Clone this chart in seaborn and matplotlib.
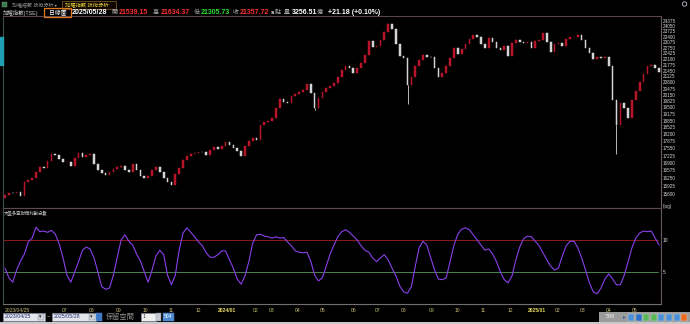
import numpy as np
import pandas as pd
import matplotlib
matplotlib.use('Agg')
import matplotlib.pyplot as plt
import seaborn as sns
from matplotlib.patches import Rectangle, Circle
from matplotlib.ticker import FixedLocator, NullLocator, NullFormatter

# ---------------- data ----------------
first_open = 15430
closes = [
    15560, 15650, 15620, 15700, 15520, 16100, 16190, 16270, 16520, 16730,
    16700, 17000, 17300, 17250, 17080, 16950, 16950, 16780, 17130, 17350,
    17170, 17260, 17280, 16860, 16600, 16480, 16390, 16520, 16650, 16730,
    16780, 16600, 16520, 16860, 16600, 16350, 16270, 16350, 16600, 16740,
    16520, 16270, 16100, 15980, 16430, 16690, 17040, 17220, 17300, 17350,
    17400, 17370, 17260, 17480, 17620, 17530, 17670, 17850, 17710, 17575,
    17440, 17210, 17670, 17900, 18030, 17940, 18650, 18790, 18840, 18990,
    19480, 19950, 19790, 19740, 20100, 20200, 20300, 20410, 20730, 20250,
    19480, 19990, 20300, 20510, 20620, 20780, 21100, 21490, 21710, 21600,
    21320, 21600, 21880, 22330, 23150, 22800, 22860, 23210, 23700, 24190,
    23890, 22980, 22270, 22160, 20670, 21100, 21710, 22050, 22330, 22220,
    22200, 21600, 21100, 21320, 21700, 22160, 22740, 22390, 22680, 22980,
    23270, 23510, 23390, 22980, 22740, 23330, 23100, 22740, 22620, 22860,
    22270, 23040, 23210, 23100, 23040, 23090, 22740, 23150, 23210, 23640,
    23100, 22510, 22980, 23040, 22860, 23270, 23390, 23390, 23510, 23210,
    22740, 22450, 22100, 22220, 22160, 22220, 21700, 19890, 18650, 19740,
    19480, 18990, 19890, 20360, 20830, 21270, 21710, 21770, 21600, 21360,
]
shadow_idx = [80, 104, 158]
shadow_low = [19350, 19660, 17300]

score = [
    5.6, 4.1, 3.4, 5.3, 6.7, 7.8, 9.7, 10.3, 12.0, 11.3,
    11.4, 11.2, 11.5, 10.9, 9.4, 7.2, 4.5, 3.4, 5.0, 6.6,
    8.4, 8.9, 8.6, 7.2, 5.0, 2.7, 2.3, 2.5, 4.5, 7.3,
    10.0, 10.8, 9.8, 9.2, 7.8, 6.7, 5.0, 3.4, 5.3, 7.5,
    8.4, 7.7, 4.5, 3.0, 4.5, 8.4, 11.1, 11.9, 11.2, 10.5,
    9.7, 9.1, 8.0, 7.3, 7.3, 7.7, 8.3, 8.3, 6.9, 5.6,
    3.9, 3.1, 4.4, 6.6, 9.5, 10.8, 10.9, 10.6, 10.5, 10.3,
    10.5, 10.3, 10.4, 9.7, 9.1, 8.3, 8.1, 8.0, 8.1, 6.7,
    4.5, 3.6, 4.1, 5.9, 7.8, 9.2, 10.5, 11.3, 11.6, 11.2,
    10.6, 10.0, 9.1, 8.4, 8.1, 7.2, 6.6, 7.2, 7.7, 6.9,
    5.6, 4.4, 2.8, 1.9, 1.7, 2.7, 5.9, 8.8, 9.8, 9.2,
    7.2, 5.3, 3.9, 3.8, 4.1, 6.6, 9.2, 10.9, 11.7, 11.9,
    11.6, 10.8, 10.0, 9.2, 8.4, 8.6, 7.8, 6.6, 5.0, 3.8,
    3.3, 4.4, 6.9, 8.9, 10.2, 10.6, 10.5, 9.8, 9.1, 8.0,
    6.9, 5.9, 5.3, 5.6, 7.5, 9.1, 9.8, 9.8, 8.8, 7.2,
    5.3, 3.3, 1.9, 1.6, 2.5, 3.9, 4.7, 3.9, 3.0, 3.0,
    4.5, 6.6, 8.8, 10.3, 11.1, 11.4, 11.3, 11.4, 10.3, 9.2,
]
days_per_candle = 3

month_pos = [0, 46.5, 67, 88, 108.5, 128.7, 150, 172, 194, 207, 227, 246.5,
             270, 289, 309, 331, 351, 370.5, 392, 412, 428, 448, 468, 488]
month_labels = ['2023/04/25', '07', '08', '09', '10', '11', '12', '2024/01',
                '02', '03', '04', '05', '06', '07', '08', '09', '10', '11',
                '12', '2025/01', '02', '03', '04', '05']
price_ticks = [15600, 15925, 16250, 16575, 16900, 17225, 17550, 17875, 18200,
               18525, 18850, 19175, 19500, 19825, 20150, 20475, 20800, 21125,
               21450, 21775, 22100, 22425, 22750, 23075, 23400, 23725, 24050,
               24375]
score_levels = [10, 5]

hdr_date = '2025/05/28'
hdr_open, hdr_high, hdr_low, hdr_close = '21539.15', '21634.37', '21305.73', '21357.72'
hdr_vol = '3256.51'
hdr_chg = '+21.18 (+0.10%)'

# ---------------- style ----------------
sns.set_theme(style='dark', rc={'axes.facecolor': 'black', 'figure.facecolor': 'black',
                                'savefig.facecolor': 'black'})
plt.rcParams['font.family'] = ['Liberation Sans', 'Noto Sans CJK TC', 'DejaVu Sans']

W, H = 690, 324
fig = plt.figure(figsize=(W / 100, H / 100), dpi=100)


def fr(px, py, w, h):
    return [px / W, 1 - (py + h) / H, w / W, h / H]


def ftext(px, py, s, **kw):
    kw.setdefault('va', 'center')
    kw.setdefault('ha', 'left')
    fig.text(px / W, 1 - py / H, s, **kw)


def frect(px, py, w, h, **kw):
    fig.patches.append(Rectangle((px / W, 1 - (py + h) / H), w / W, h / H,
                                 transform=fig.transFigure, **kw))


# ---------------- main candle panel ----------------
ax = fig.add_axes(fr(3, 16, 658, 192))
ax.set_facecolor('black')
opens = [first_open] + closes[:-1]
days = np.arange(len(closes)) * days_per_candle
df = pd.DataFrame({'day': days, 'open': opens, 'close': closes})
df['up'] = df['close'] >= df['open']
df['lo'] = df[['open', 'close']].min(axis=1)
df['hi'] = df[['open', 'close']].max(axis=1)
col = np.where(df['up'], '#b8142a', '#d4d4d4')
ax.bar(df['day'], df['hi'] - df['lo'], bottom=df['lo'], width=1.3,
       color=col, edgecolor=col, linewidth=0.35)
for i, lo in zip(shadow_idx, shadow_low):
    ax.vlines(df['day'][i], lo, df['lo'][i], color=col[i], lw=0.6)

ax.set_yscale('log')
ax.set_ylim(15046, 24691)
ax.set_xlim(-1.55, 508.5)
ax.yaxis.set_major_locator(FixedLocator(price_ticks))
ax.yaxis.set_minor_locator(NullLocator())
ax.yaxis.set_minor_formatter(NullFormatter())
ax.set_yticklabels([str(v) for v in price_ticks])
ax.yaxis.tick_right()
ax.tick_params(axis='y', length=0, pad=1.5, labelsize=3.3, colors='#d8d8d8')
ax.set_xticks([])
ax.grid(False)
for s, c in [('top', '#5a4450'), ('right', '#6a5a62'), ('left', '#3c4c4c'), ('bottom', '#5a4a52')]:
    ax.spines[s].set_color(c)
    ax.spines[s].set_linewidth(0.8)
ax.text(1.003, 0.01, '(log)', transform=ax.transAxes, fontsize=3.3, color='#d8d8d8',
        ha='left', va='center')

# ---------------- score panel ----------------
ax2 = fig.add_axes(fr(3, 208, 658, 96))
ax2.set_facecolor('black')
ax2.axhline(score_levels[0], color='#8c1c1c', lw=0.7, xmax=0.995)
ax2.axhline(score_levels[1], color='#4c8450', lw=0.7, xmax=0.995)
sns.lineplot(x=days, y=score, ax=ax2, color='#8a40ea', lw=0.8)
ax2.set_xlim(-1.55, 508.5)
ax2.set_ylim(0, 15)
ax2.set_yticks(score_levels)
ax2.set_yticklabels([str(v) for v in score_levels])
ax2.yaxis.tick_right()
ax2.tick_params(axis='y', length=0, pad=1.5, labelsize=3.5, colors='#e0e0e0')
ax2.set_xticks(month_pos)
ax2.set_xticklabels(month_labels)
ax2.tick_params(axis='x', length=1.5, width=0.5, color='#909090', pad=1.2,
                labelsize=3.6, colors='#c8c07a', direction='out')
for lab in ax2.get_xticklabels():
    if '/' in lab.get_text():
        lab.set_fontweight('bold')
        lab.set_color('#e8dc60')
    if lab.get_text() == '2023/04/25':
        lab.set_horizontalalignment('left')
        lab.set_color('#c8c07a')
        lab.set_fontweight('normal')
ax2.grid(False)
ax2.set_xlabel('')
ax2.set_ylabel('')
for s, c in [('top', '#5a4a52'), ('right', '#6a5a62'), ('left', '#3c4c4c'), ('bottom', '#707070')]:
    ax2.spines[s].set_color(c)
    ax2.spines[s].set_linewidth(0.8)
ax2.text(0.002, 0.97, '大盤多空對策判斷分數', transform=ax2.transAxes, fontsize=3.2,
         color='#c8c8c8', ha='left', va='top')

# ---------------- header ----------------
frect(0, 37, 2.5, 28, color='#20a0b4')
frect(2, 1.5, 5, 5, facecolor='#3a7a4a', edgecolor='#80a080', lw=0.3)
ftext(12, 4.5, '加權指數 技術分析 ▸', fontsize=3.6, color='#909090')
frect(62, 0.5, 54, 8, facecolor='#100800', edgecolor='#7a5020', lw=0.6)
ftext(65, 4.5, '加權指數 技術分析', fontsize=3.8, color='#e8d040')

row = 12.5
ftext(3, row, '加權指數(TSE)', fontsize=3.9, color='#c8c8c8')
frect(44, 8.5, 27, 8.5, facecolor='none', edgecolor='#e07a20', lw=0.9)
ftext(49, row, '日線圖', fontsize=4.2, color='#ffffff')
ftext(72, row, hdr_date, fontsize=5.0, color='#ffffff', fontweight='bold')
ftext(111, row, '開', fontsize=4.3, color='#b0b0b0')
ftext(119, row, hdr_open, fontsize=5.0, color='#ff3030', fontweight='bold')
ftext(153, row, '高', fontsize=4.3, color='#b0b0b0')
ftext(161, row, hdr_high, fontsize=5.0, color='#ff3030', fontweight='bold')
ftext(194, row, '低', fontsize=4.3, color='#b0b0b0')
ftext(201, row, hdr_low, fontsize=5.0, color='#30e030', fontweight='bold')
ftext(233, row, '收', fontsize=4.3, color='#b0b0b0')
ftext(240, row, hdr_close, fontsize=5.0, color='#ff3030', fontweight='bold')
ftext(271, row, 's', fontsize=4.3, color='#ffffff', fontweight='bold')
ftext(275, row, '點', fontsize=4.3, color='#b0b0b0')
ftext(284, row, '量', fontsize=4.3, color='#b0b0b0')
ftext(292, row, hdr_vol, fontsize=5.0, color='#ffffff', fontweight='bold')
ftext(317, row, '億', fontsize=4.3, color='#b0b0b0')
ftext(328, row, hdr_chg, fontsize=5.0, color='#ffffff', fontweight='bold')
fig.patches.append(Circle((6.845, 3.20), 0.022, transform=fig.dpi_scale_trans,
                          facecolor='none', edgecolor='#c0c0d0', lw=0.6))

# ---------------- bottom controls ----------------
by = 317
frect(3, 313, 42, 8, facecolor='#e4e4ec', edgecolor='#8090a0', lw=0.4)
ftext(5, by, '2023/04/25', fontsize=3.8, color='#203070')
frect(38, 314, 6, 6, facecolor='#d0d0d8', edgecolor='#8090a0', lw=0.3)
ftext(39, by, '▾', fontsize=3.5, color='#202020', family='DejaVu Sans')
ftext(47, by, '~', fontsize=4.5, color='#e0e0e0')
frect(52, 313, 44, 8, facecolor='#e4e4ec', edgecolor='#8090a0', lw=0.4)
ftext(54, by, '2025/05/28', fontsize=3.8, color='#203070')
frect(89, 314, 6, 6, facecolor='#d0d0d8', edgecolor='#8090a0', lw=0.3)
ftext(90, by, '▾', fontsize=3.5, color='#202020', family='DejaVu Sans')
frect(96, 313, 6, 8, facecolor='#3c78c8', edgecolor='#6090d0', lw=0.3)
ftext(106, by, '保留空間', fontsize=5.2, color='#8a8a8a')
frect(141, 313, 15, 8, facecolor='#f0f0f0', edgecolor='#8090a0', lw=0.4)
ftext(143, by, '1', fontsize=3.8, color='#303030')
frect(156, 313, 5, 8, facecolor='#c8c8d0', edgecolor='#8090a0', lw=0.3)
frect(163, 313, 11, 8, facecolor='#4a8ad0', edgecolor='#6090d0', lw=0.3)
ftext(164, by, '504', fontsize=3.6, color='#ffffff')

frect(599, 312, 91, 10, facecolor='#9c9c9c', edgecolor='none')
ftext(606, by, '508', fontsize=4.0, color='#f0f0f0')
ftext(623, by, '▸', fontsize=4, color='#3060a0', family='DejaVu Sans')
icon_cols = ['#4a90d8', '#2a70c8', '#58b858', '#58b858', '#4a90d8', '#4a90d8', '#4a90d8', '#e86a20']
for k, c in enumerate(icon_cols):
    frect(628 + k * 7.6, 313.5, 6, 7, facecolor=c, edgecolor='#d0d0d0', lw=0.3)
frect(0, 322, 690, 2, facecolor='#c8c8c8', edgecolor='none')

fig.savefig('out.png', dpi=100, facecolor='black')
